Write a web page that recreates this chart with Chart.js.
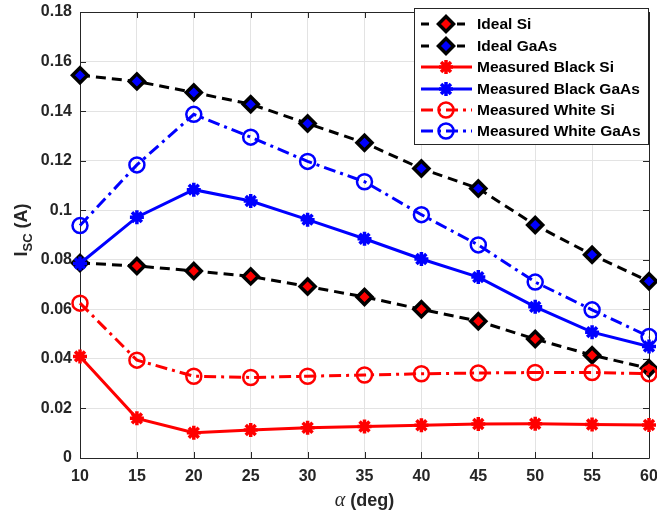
<!DOCTYPE html>
<html>
<head>
<meta charset="utf-8">
<script src="https://cdn.jsdelivr.net/npm/chart.js@4/dist/chart.umd.min.js"></script>
<style>
  html, body { margin: 0; padding: 0; background: #ffffff; }
  #wrap { width: 657px; height: 518px; }
</style>
</head>
<body>
<div id="wrap"><canvas id="chart" width="657" height="518"></canvas></div>
<script>
// Incidence angle (deg)
const angles = [10, 15, 20, 25, 30, 35, 40, 45, 50, 55, 60];

// Short-circuit current (A)
const idealSi          = [0.0787, 0.0775, 0.0755, 0.0733, 0.0692, 0.0650, 0.0600, 0.0552, 0.0480, 0.0415, 0.0362];
const idealGaAs        = [0.1545, 0.1520, 0.1475, 0.1428, 0.1350, 0.1272, 0.1168, 0.1088, 0.0940, 0.0820, 0.0713];
const measBlackSi      = [0.0410, 0.0160, 0.0102, 0.0113, 0.0122, 0.0127, 0.0132, 0.0137, 0.0138, 0.0135, 0.0133];
const measBlackGaAs    = [0.0785, 0.0972, 0.1083, 0.1037, 0.0962, 0.0885, 0.0803, 0.0730, 0.0610, 0.0508, 0.0450];
const measWhiteSi      = [0.0625, 0.0395, 0.0330, 0.0325, 0.0330, 0.0335, 0.0340, 0.0343, 0.0345, 0.0345, 0.0340];
const measWhiteGaAs    = [0.0938, 0.1183, 0.1387, 0.1295, 0.1197, 0.1115, 0.0982, 0.0860, 0.0710, 0.0598, 0.0490];

const seriesNames = ['Ideal Si', 'Ideal GaAs', 'Measured Black Si', 'Measured Black GaAs', 'Measured White Si', 'Measured White GaAs'];

const xTickLabels = ['10', '15', '20', '25', '30', '35', '40', '45', '50', '55', '60'];
const yTickLabels = ['0', '0.02', '0.04', '0.06', '0.08', '0.1', '0.12', '0.14', '0.16', '0.18'];

const RED = '#ff0000';
const BLUE = '#0000ff';
const AXIS = '#262626';
const GRID = '#e3e3e3';
const DASH = [10, 6];
const DASHDOT = [12, 5, 3, 5];

const pairs = (ys) => angles.map((a, i) => ({ x: a, y: ys[i] }));

const styles = [
  { data: idealSi,       line: '#000000', dash: DASH,    marker: 'rectRot', fill: RED,  edge: '#000000', radius: 7.5, bw: 3.5 },
  { data: idealGaAs,     line: '#000000', dash: DASH,    marker: 'rectRot', fill: BLUE, edge: '#000000', radius: 7.5, bw: 3.5 },
  { data: measBlackSi,   line: RED,       dash: [],      marker: 'star',    fill: RED,  edge: RED,       radius: 7,   bw: 3.5 },
  { data: measBlackGaAs, line: BLUE,      dash: [],      marker: 'star',    fill: BLUE, edge: BLUE,      radius: 7,   bw: 3.5 },
  { data: measWhiteSi,   line: RED,       dash: DASHDOT, marker: 'circle',  fill: 'rgba(0,0,0,0)', edge: RED,  radius: 7.5, bw: 2.5 },
  { data: measWhiteGaAs, line: BLUE,      dash: DASHDOT, marker: 'circle',  fill: 'rgba(0,0,0,0)', edge: BLUE, radius: 7.5, bw: 2.5 }
];

const datasets = styles.map((s, i) => ({
  label: seriesNames[i],
  data: pairs(s.data),
  borderColor: s.line,
  borderWidth: 3,
  borderDash: s.dash,
  pointStyle: s.marker,
  pointRadius: s.radius,
  pointBackgroundColor: s.fill,
  pointBorderColor: s.edge,
  pointBorderWidth: s.bw,
  pointHoverRadius: s.radius,
  tension: 0,
  fill: false,
  clip: false,
  order: styles.length - i
}));

// Box, inward ticks, legend and axis titles
const decorations = {
  id: 'decorations',
  beforeDatasetsDraw(chart) {
    const { ctx, chartArea: a, scales: { x, y } } = chart;
    ctx.save();
    ctx.strokeStyle = AXIS;
    ctx.lineWidth = 1;
    ctx.beginPath();
    angles.forEach((v) => {
      const px = Math.round(x.getPixelForValue(v)) + 0.5;
      ctx.moveTo(px, a.bottom); ctx.lineTo(px, a.bottom - 6);
      ctx.moveTo(px, a.top); ctx.lineTo(px, a.top + 6);
    });
    yTickLabels.forEach((t) => {
      const py = Math.round(y.getPixelForValue(parseFloat(t))) + 0.5;
      ctx.moveTo(a.left, py); ctx.lineTo(a.left + 6, py);
      ctx.moveTo(a.right, py); ctx.lineTo(a.right - 6, py);
    });
    ctx.stroke();
    ctx.beginPath();
    ctx.rect(Math.round(a.left) + 0.5, Math.round(a.top) + 0.5, Math.round(a.right - a.left), Math.round(a.bottom - a.top));
    ctx.stroke();
    ctx.restore();
  },
  afterDraw(chart) {
    const { ctx, chartArea: a } = chart;
    ctx.save();

    // legend
    const bx = 414.5, by = 8.5, bw = 234, bh = 136;
    ctx.fillStyle = '#ffffff';
    ctx.fillRect(bx, by, bw, bh);
    ctx.strokeStyle = AXIS;
    ctx.lineWidth = 1;
    ctx.strokeRect(bx, by, bw, bh);
    const rowY = [24, 46, 67, 89, 110, 131];
    ctx.font = 'bold 15.5px "Liberation Sans", Arial, sans-serif';
    ctx.textBaseline = 'middle';
    styles.forEach((s, i) => {
      const yy = rowY[i];
      ctx.save();
      ctx.strokeStyle = s.line;
      ctx.lineWidth = 3;
      ctx.setLineDash(s.dash.length ? (s.dash === DASH ? [8, 10] : s.dash) : []);
      ctx.beginPath();
      ctx.moveTo(421, yy); ctx.lineTo(472, yy);
      ctx.stroke();
      ctx.restore();
      const mx = 446;
      const pt = { pointStyle: s.marker, radius: s.radius, borderWidth: s.bw, rotation: 0 };
      ctx.save();
      ctx.fillStyle = s.fill;
      ctx.strokeStyle = s.edge;
      ctx.lineWidth = s.bw;
      ctx.setLineDash([]);
      Chart.helpers.drawPoint(ctx, pt, mx, yy);
      ctx.restore();
      ctx.fillStyle = '#000000';
      ctx.textAlign = 'left';
      ctx.fillText(seriesNames[i], 477, yy + 1);
    });

    // y-axis title: I_SC (A)
    ctx.fillStyle = AXIS;
    ctx.textBaseline = 'alphabetic';
    ctx.textAlign = 'left';
    const big = 'bold 18px "Liberation Sans", Arial, sans-serif';
    const small = 'bold 13px "Liberation Sans", Arial, sans-serif';
    ctx.font = big; const wI = ctx.measureText('I').width; const wA = ctx.measureText(' (A)').width;
    ctx.font = small; const wS = ctx.measureText('SC').width;
    const total = wI + wS + wA;
    ctx.save();
    ctx.translate(27, 230);
    ctx.rotate(-Math.PI / 2);
    let cx = -total / 2;
    ctx.font = big; ctx.fillText('I', cx, 0); cx += wI;
    ctx.font = small; ctx.fillText('SC', cx, 5); cx += wS;
    ctx.font = big; ctx.fillText(' (A)', cx, 0);
    ctx.restore();

    // x-axis title: α (deg)
    const greek = 'italic 20px "Liberation Serif", "Times New Roman", serif';
    const rest = 'bold 18px "Liberation Sans", Arial, sans-serif';
    ctx.font = greek; const wG = ctx.measureText('\u03b1').width;
    ctx.font = rest; const wR = ctx.measureText(' (deg)').width;
    const xc = (a.left + a.right) / 2;
    let tx = xc - (wG + wR) / 2;
    const ty = 506;
    ctx.font = greek; ctx.fillText('\u03b1', tx, ty); tx += wG;
    ctx.font = rest; ctx.fillText(' (deg)', tx, ty);

    ctx.restore();
  }
};

new Chart(document.getElementById('chart'), {
  type: 'line',
  data: { datasets },
  options: {
    responsive: false,
    devicePixelRatio: 1,
    animation: false,
    events: [],
    layout: { autoPadding: false, padding: { top: 12, right: 8, left: 0, bottom: 0 } },
    plugins: { legend: { display: false }, tooltip: { enabled: false } },
    scales: {
      x: {
        type: 'linear',
        min: 10, max: 60,
        afterBuildTicks(scale) { scale.ticks = angles.map((v) => ({ value: v })); },
        afterFit(scale) { scale.height = 60; scale.paddingLeft = 0; scale.paddingRight = 0; },
        ticks: {
          callback: (v) => xTickLabels[angles.indexOf(v)],
          color: AXIS,
          padding: 9,
          maxRotation: 0,
          autoSkip: false,
          font: { family: '"Liberation Sans", Arial, sans-serif', size: 16, weight: 'bold' }
        },
        grid: { color: GRID, lineWidth: 1, drawTicks: false },
        border: { display: false }
      },
      y: {
        type: 'linear',
        min: 0, max: 0.18,
        afterBuildTicks(scale) { scale.ticks = yTickLabels.map((t) => ({ value: parseFloat(t) })); },
        afterFit(scale) { scale.width = 80; scale.paddingTop = 0; scale.paddingBottom = 0; },
        ticks: {
          callback: (v, i) => yTickLabels[i],
          color: AXIS,
          padding: 8,
          autoSkip: false,
          font: { family: '"Liberation Sans", Arial, sans-serif', size: 16, weight: 'bold' }
        },
        grid: { color: GRID, lineWidth: 1, drawTicks: false },
        border: { display: false }
      }
    }
  },
  plugins: [decorations]
});
</script>
</body>
</html>
